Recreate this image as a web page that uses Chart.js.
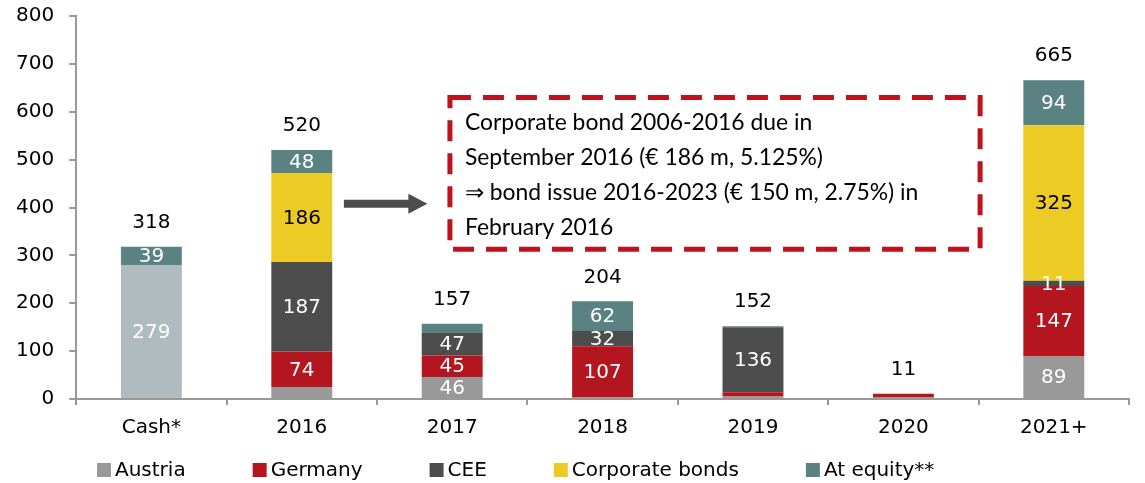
<!DOCTYPE html>
<html><head><meta charset="utf-8">
<script src="https://cdn.jsdelivr.net/npm/chart.js@4/dist/chart.umd.min.js"></script>
<style>html,body{margin:0;padding:0;background:#fff}
#wrap{width:1145px;height:483px;position:relative;overflow:hidden}
#inner{position:absolute;left:0;top:-11px;width:1145px;height:494px}</style>
</head><body><div id="wrap"><div id="inner"><canvas id="c"></canvas></div></div>
<script>
const categories = ['Cash*', '2016', '2017', '2018', '2019', '2020', '2021+'];
const cash = [279, null, null, null, null, null, null];
const austria = [null, 25, 46, 3, 5, 3, 89];
const germany = [null, 74, 45, 107, 9, 8, 147];
const cee = [null, 187, 47, 32, 136, null, 11];
const corporateBonds = [null, 186, null, null, null, null, 325];
const atEquity = [39, 48, 19, 62, 2, null, 94];
const totals = [318, 520, 157, 204, 152, 11, 665];
const yMax = 800, yStep = 100;
const noteLines = [
  'Corporate bond 2006-2016 due in',
  'September 2016 (€ 186 m, 5.125%)',
  '\u21D2 bond issue 2016-2023 (€ 150 m, 2.75%) in',
  'February 2016'
];

const FONT = '"DejaVu Sans", Verdana, sans-serif';
const NOTE_FONT = 'Lato, "Open Sans", sans-serif';
const C = {cash:'#b0bbbf', austria:'#999999', germany:'#b3161e', cee:'#4d4d4d', bonds:'#ebcb24', eq:'#5b8282', red:'#c0121c'};

const datasets = [
  {label:'Cash', data:cash, backgroundColor:C.cash, legend:false},
  {label:'Austria', data:austria, backgroundColor:C.austria, legend:true},
  {label:'Germany', data:germany, backgroundColor:C.germany, legend:true},
  {label:'CEE', data:cee, backgroundColor:C.cee, legend:true},
  {label:'Corporate bonds', data:corporateBonds, backgroundColor:C.bonds, legend:true, labelColor:'#000'},
  {label:'At equity**', data:atEquity, backgroundColor:C.eq, legend:true}
];

const segLabels = {
  id:'segLabels',
  afterDatasetsDraw(chart){
    const ctx = chart.ctx;
    ctx.save();
    ctx.font = '20px ' + FONT;
    ctx.textAlign = 'center';
    ctx.textBaseline = 'middle';
    chart.data.datasets.forEach((ds, di) => {
      const meta = chart.getDatasetMeta(di);
      meta.data.forEach((el, i) => {
        const v = ds.data[i];
        if (v == null) return;
        const show = v >= 30 || (ds.label === 'CEE' && categories[i] === '2021+');
        if (!show) return;
        ctx.fillStyle = ds.labelColor || '#fff';
        ctx.fillText(String(v), el.x, (el.y + el.base) / 2 + 1);
      });
    });
    const ys = chart.scales.y, xs = chart.scales.x;
    ctx.fillStyle = '#000';
    categories.forEach((c, i) => {
      let sum = 0;
      chart.data.datasets.forEach(ds => { sum += ds.data[i] || 0; });
      ctx.fillText(String(totals[i]), xs.getPixelForValue(i), ys.getPixelForValue(sum) - 24);
    });
    ctx.restore();
  }
};

const note = {
  id:'note',
  afterDraw(chart){
    const ctx = chart.ctx, xs = chart.scales.x, ys = chart.scales.y;
    const x0 = xs.getPixelForValue(1.985), x1 = xs.getPixelForValue(5.51);
    const y0 = ys.getPixelForValue(630), y1 = ys.getPixelForValue(313);
    ctx.save();
    ctx.strokeStyle = C.red;
    ctx.lineWidth = 5;
    ctx.setLineDash([21, 12]);
    ctx.strokeRect(x0, y0, x1 - x0, y1 - y0);
    ctx.setLineDash([]);
    ctx.fillStyle = '#000';
    let fs = 24;
    ctx.font = fs + 'px ' + NOTE_FONT;
    fs = fs * 348 / ctx.measureText(noteLines[0]).width;
    ctx.font = fs.toFixed(1) + 'px ' + NOTE_FONT;
    ctx.textAlign = 'left';
    ctx.textBaseline = 'middle';
    noteLines.forEach((t, k) => ctx.fillText(t, x0 + 15, y0 + 25 + k * 35));
    const ay = ys.getPixelForValue(408);
    const ax0 = xs.getPixelForValue(1.28), ax1 = xs.getPixelForValue(1.835);
    ctx.strokeStyle = '#4d4d4d';
    ctx.fillStyle = '#4d4d4d';
    ctx.lineWidth = 8;
    ctx.beginPath(); ctx.moveTo(ax0, ay); ctx.lineTo(ax1 - 16, ay); ctx.stroke();
    ctx.beginPath(); ctx.moveTo(ax1, ay); ctx.lineTo(ax1 - 19, ay - 10); ctx.lineTo(ax1 - 19, ay + 10); ctx.closePath(); ctx.fill();
    ctx.restore();
  }
};

const legendPlugin = {
  id:'bottomLegend',
  afterDraw(chart){
    const ctx = chart.ctx;
    const y = 481;
    ctx.save();
    ctx.font = '20px ' + FONT;
    ctx.textBaseline = 'middle';
    ctx.textAlign = 'left';
    let x = 97;
    chart.data.datasets.forEach(ds => {
      if (!ds.legend) return;
      ctx.fillStyle = ds.backgroundColor;
      ctx.fillRect(x, y - 7, 14, 14);
      x += 18;
      ctx.fillStyle = '#000';
      ctx.fillText(ds.label, x, y + 1);
      x += ctx.measureText(ds.label).width + 67;
    });
    ctx.restore();
  }
};

new Chart(document.getElementById('c'), {
  type:'bar',
  data:{labels:categories, datasets},
  options:{
    responsive:true, maintainAspectRatio:false, animation:false,
    layout:{padding:{left:1, right:16, top:6, bottom:32}},
    datasets:{bar:{categoryPercentage:0.81, barPercentage:0.5, borderWidth:0}},
    plugins:{legend:{display:false}, tooltip:{enabled:false}},
    scales:{
      x:{stacked:true,
        grid:{display:true, drawOnChartArea:false, tickLength:6, color:'#999', lineWidth:2, offset:true},
        border:{color:'#999', width:2},
        ticks:{color:'#000', font:{family:FONT, size:20}, padding:11}},
      y:{stacked:true, min:0, max:yMax,
        grid:{display:true, drawOnChartArea:false, tickLength:7, color:'#999', lineWidth:2},
        border:{color:'#999', width:2},
        ticks:{stepSize:yStep, color:'#000', font:{family:FONT, size:20}, padding:15}}
    }
  },
  plugins:[segLabels, note, legendPlugin]
});
</script></body></html>
